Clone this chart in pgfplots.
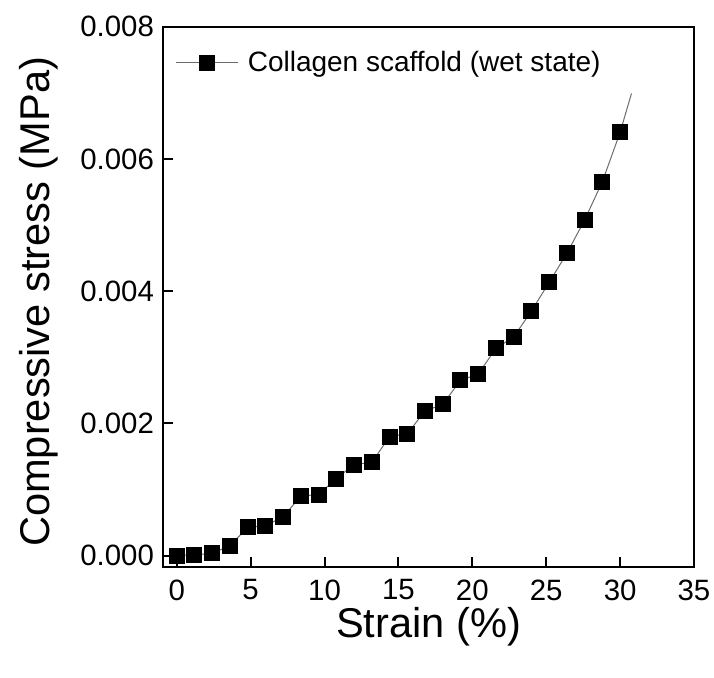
\documentclass[border=0pt]{standalone}
\usepackage{pgfplots}
\pgfplotsset{compat=1.18}
\usepackage{fontspec}
\setmainfont{Liberation Sans}
\begin{document}
\begin{tikzpicture}
\begin{axis}[
  scale only axis,
  width=265.5pt, height=270.3pt,
  xmin=-0.93, xmax=35,
  ymin=-0.000178, ymax=0.008,
  xtick={0,5,...,35},
  ytick={0,0.002,0.004,0.006,0.008},
  scaled y ticks=false,
  yticklabel style={/pgf/number format/.cd, fixed, fixed zerofill, precision=3, /tikz/.cd, xshift=-1pt},
  /pgf/number format/assume math mode=true,
  tick align=inside,
  tick pos=left,
  major tick length=5pt,
  axis line style={line width=1pt},
  every tick/.style={black, line width=1pt},
  tick label style={font=\fontsize{14.7}{17}\selectfont},
  xticklabel style={inner sep=0pt, yshift=-6pt},
  xlabel={Strain (\%)},
  ylabel={Compressive stress (MPa)},
  every axis x label/.style={at={(axis description cs:0.5,-0.11)},anchor=center,inner sep=0pt,font=\fontsize{20.8}{24}\selectfont},
  every axis y label/.style={at={(axis description cs:-0.234,0.491)},rotate=90,anchor=center,font=\fontsize{20.8}{24}\selectfont},
  legend style={draw=none, fill=none, at={(axis description cs:0.0226,0.933)}, anchor=west,
    font=\fontsize{14}{17}\selectfont, inner xsep=0pt, column sep=2.7pt},
  legend image code/.code={\draw[#1, mark repeat=2, mark phase=2] plot coordinates {(0pt,0pt) (15.5pt,0pt) (31pt,0pt)};},
  clip=false,
]
\addplot[gray!85!black, line width=0.5pt, forget plot] coordinates {(30,0.006402) (30.77,0.00699)};
\addplot[gray!85!black, line width=0.5pt, mark=square*, mark size=3.75pt, mark options={fill=black, draw=black, solid}] coordinates {
(0,0.0000)
(1.2,0.00001)
(2.4,0.000033)
(3.6,0.000148)
(4.8,0.000427)
(6.0,0.000451)
(7.2,0.000587)
(8.4,0.000900)
(9.6,0.000923)
(10.8,0.001165)
(12.0,0.001377)
(13.2,0.00141)
(14.4,0.001797)
(15.6,0.001843)
(16.8,0.002186)
(18.0,0.002287)
(19.2,0.00265)
(20.4,0.002746)
(21.6,0.003135)
(22.8,0.003306)
(24.0,0.003699)
(25.2,0.004133)
(26.4,0.004572)
(27.6,0.005076)
(28.8,0.005655)
(30.0,0.006402)
};
\addlegendentry{Collagen scaffold (wet state)}
\end{axis}
\pgfresetboundingbox
\path[use as bounding box] (-81.5pt,-54.85pt) rectangle (275.5pt,283.65pt);
\end{tikzpicture}
\end{document}
